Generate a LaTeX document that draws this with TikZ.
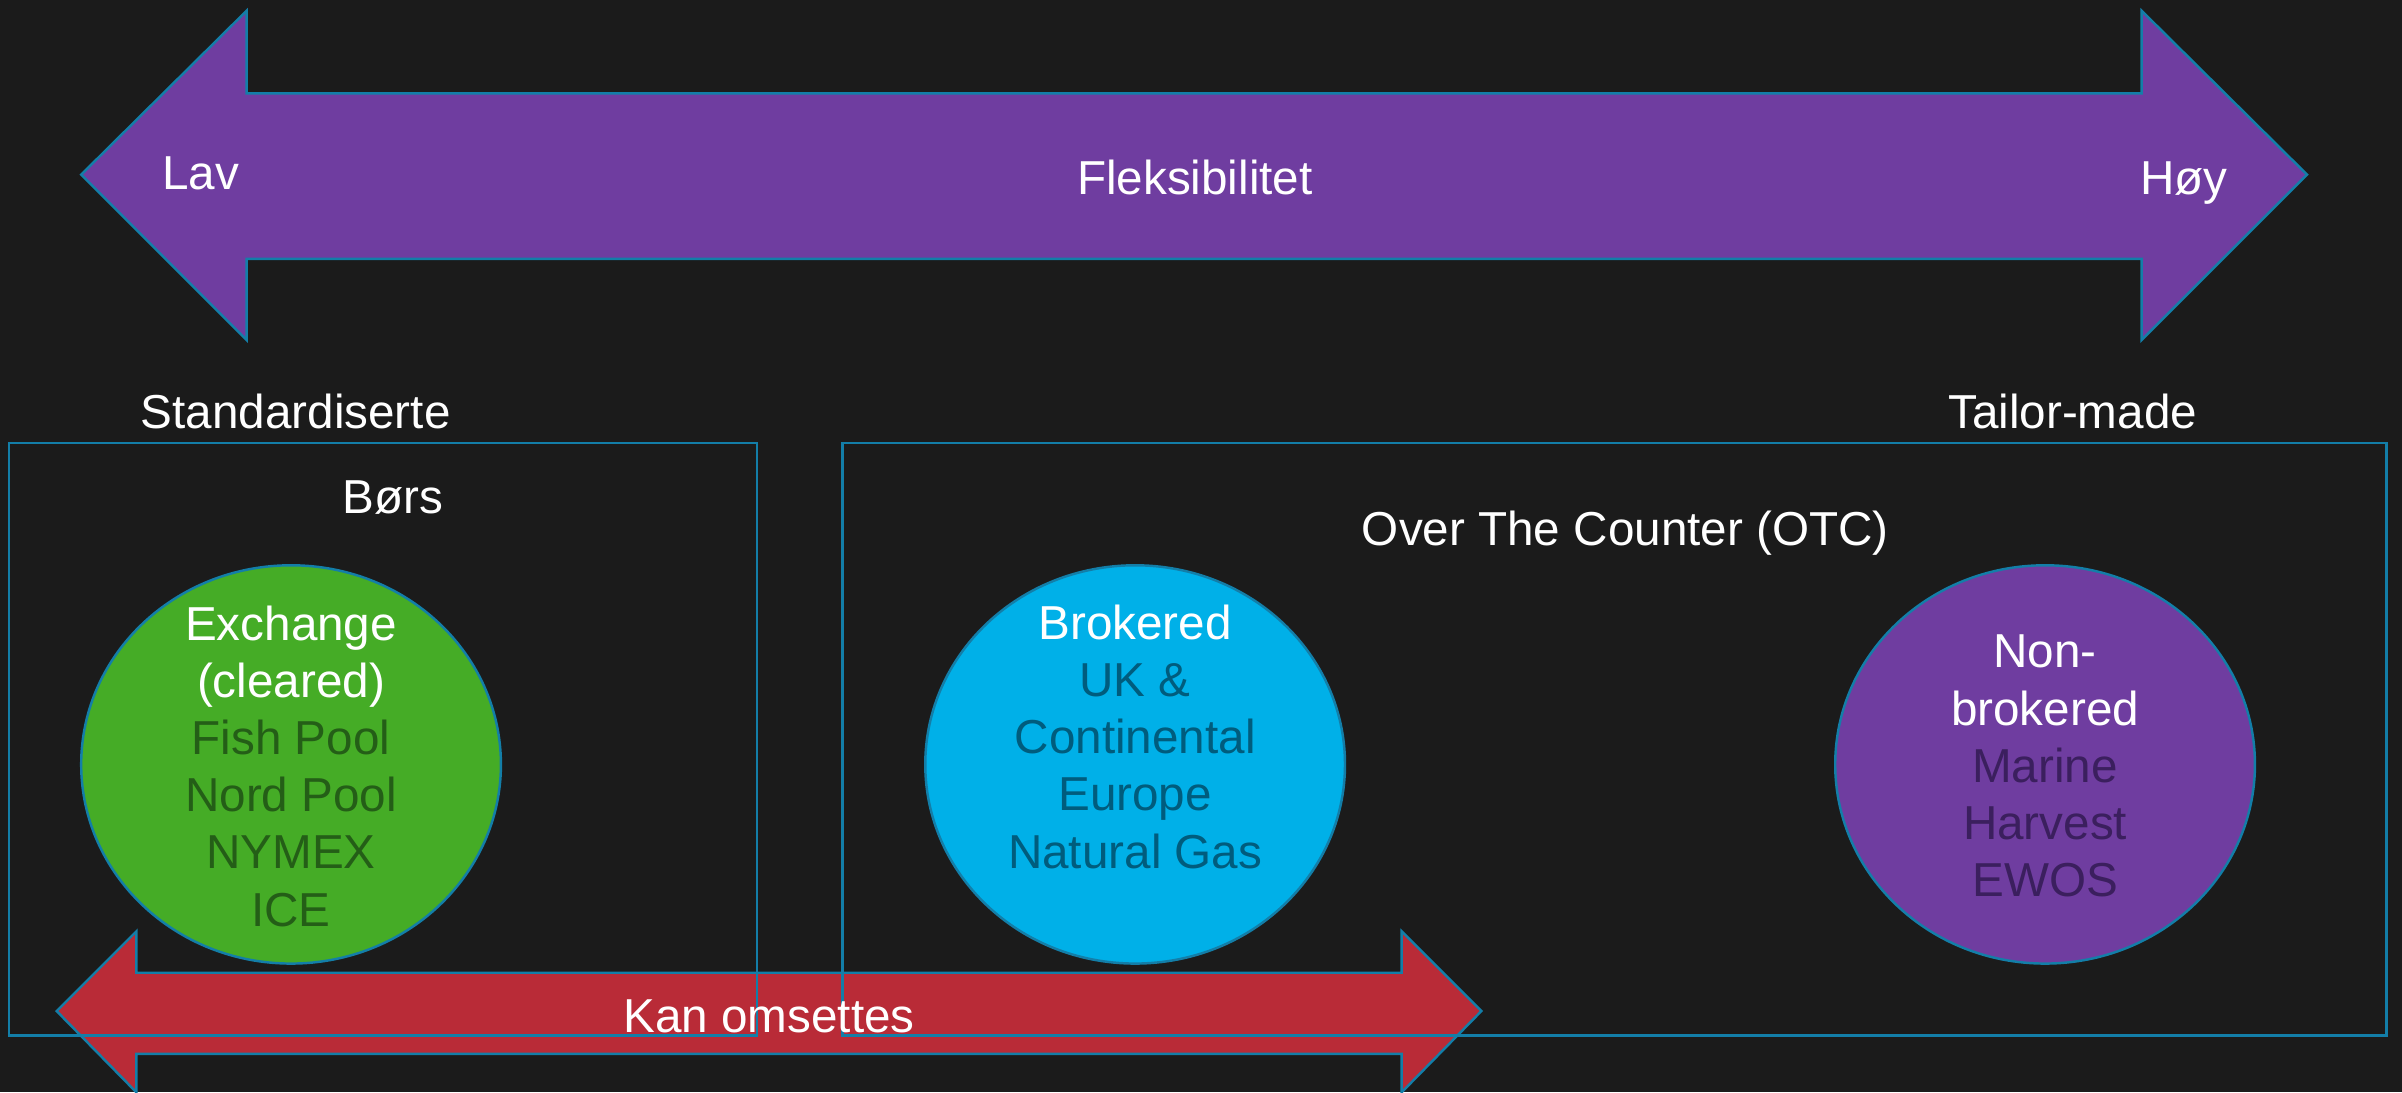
\documentclass[tikz,border=0pt]{standalone}
\usepackage{fontspec}
\setmainfont{Liberation Sans}
\definecolor{bg}{HTML}{1B1B1B}
\definecolor{edgeblue}{HTML}{137EA8}
\definecolor{purplefill}{HTML}{6F3DA0}
\definecolor{redfill}{HTML}{B92B37}
\definecolor{greenfill}{HTML}{45AC26}
\definecolor{greentext}{HTML}{245E17}
\definecolor{bluefill}{HTML}{00B0E8}
\definecolor{bluetext}{HTML}{005C7D}
\definecolor{purpletext}{HTML}{3B1F5E}
\begin{document}
\begin{tikzpicture}[x=1pt,y=-1pt,
  txt/.style={font=\fontsize{31.1}{37.3}\selectfont, inner sep=0pt, anchor=base, text=white},
  outline/.style={draw=edgeblue, line width=1.6pt, line join=miter},
  frame/.style={draw=edgeblue, line width=1.6pt}]
\fill[bg] (0,0) rectangle (1568,713);
\useasboundingbox (0,0) rectangle (1568,713);

% top double arrow
\path[outline, fill=purplefill] (53,114) -- (161,7) -- (161,61) -- (1398,61) -- (1398,7)
  -- (1506,114) -- (1398,222) -- (1398,169) -- (161,169) -- (161,222) -- cycle;

% bottom double arrow
\path[outline, fill=redfill] (37,660) -- (89,608) -- (89,635) -- (915,635) -- (915,608)
  -- (967,660) -- (915,713) -- (915,688) -- (89,688) -- (89,713) -- cycle;

% boxes
\draw[frame] (6,289) rectangle (494,676);
\draw[frame] (550,289) rectangle (1558,676);

% circles
\path[outline, fill=greenfill] (190,499) ellipse [x radius=137, y radius=130];
\path[outline, fill=bluefill] (741,499) ellipse [x radius=137, y radius=130];
\path[outline, fill=purplefill] (1335,499) ellipse [x radius=137, y radius=130];

% labels on top arrow
\node[txt] (lav) at (131,124) {Lav};
\node[txt] (flex) at (780,127) {Fleksibilitet};
\node[txt] (hoy) at (1425.5,127) {Høy};

\node[txt] (std) at (193,280) {Standardiserte};
\node[txt] (tailor) at (1353,280) {Tailor-made};
\node[txt] (bors) at (256.5,335) {Børs};
\node[txt] (otc) at (1061,356) {Over The Counter (OTC)};

% green circle text
\node[txt] (g1) at (190,418) {Exchange};
\node[txt] (g2) at (190,455.3) {(cleared)};
\node[txt, text=greentext] (g3) at (190,492.6) {Fish Pool};
\node[txt, text=greentext] (g4) at (190,529.9) {Nord Pool};
\node[txt, text=greentext] (g5) at (190,567.2) {NYMEX};
\node[txt, text=greentext] (g6) at (190,604.5) {ICE};

% blue circle text
\node[txt] (b1) at (741,417.5) {Brokered};
\node[txt, text=bluetext] (b2) at (741,454.8) {UK \&};
\node[txt, text=bluetext] (b3) at (741,492.1) {Continental};
\node[txt, text=bluetext] (b4) at (741,529.4) {Europe};
\node[txt, text=bluetext] (b5) at (741,566.7) {Natural Gas};

% purple circle text
\node[txt] (p1) at (1335,436) {Non-};
\node[txt] (p2) at (1335,473.3) {brokered};
\node[txt, text=purpletext] (p3) at (1335,510.6) {Marine};
\node[txt, text=purpletext] (p4) at (1335,547.9) {Harvest};
\node[txt, text=purpletext] (p5) at (1335,585.2) {EWOS};

\node[txt] (kan) at (502,674) {Kan omsettes};
\end{tikzpicture}
\end{document}
